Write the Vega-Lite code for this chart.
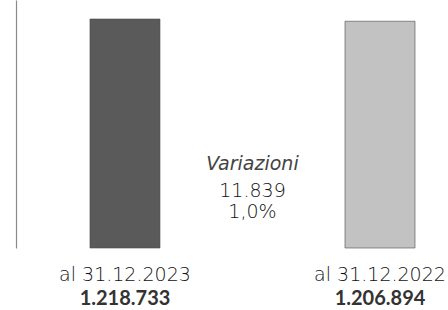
{
  "$schema": "https://vega.github.io/schema/vega-lite/v6.json",
  "width": 432,
  "height": 248,
  "autosize": {"type": "none"},
  "padding": {"left": 16, "top": 0, "right": 0, "bottom": 62},
  "background": "white",
  "config": {"view": {"stroke": null}, "font": "DejaVu Sans"},
  "data": {
    "values": [
      {"periodo": "al 31.12.2023", "valore": 1218733, "etichetta": "1.218.733"},
      {"periodo": "al 31.12.2022", "valore": 1206894, "etichetta": "1.206.894"}
    ]
  },
  "encoding": {
    "x": {
      "field": "periodo",
      "type": "nominal",
      "sort": null,
      "scale": {"domain": ["al 31.12.2023", "Variazioni", "al 31.12.2022"], "paddingInner": 0, "paddingOuter": 0.194, "align": 0.914},
      "axis": null
    }
  },
  "layer": [
    {
      "mark": {"type": "bar", "width": 70, "stroke": "#4a4a4a", "strokeWidth": 0.6},
      "encoding": {
        "y": {
          "field": "valore",
          "type": "quantitative",
          "scale": {"domain": [0, 1320000], "nice": false},
          "axis": {"labels": false, "ticks": false, "grid": false, "title": null, "domainColor": "#8a8a8a", "domainWidth": 1.2}
        },
        "color": {
          "field": "periodo",
          "type": "nominal",
          "scale": {"domain": ["al 31.12.2023", "al 31.12.2022"], "range": ["#5a5a5a", "#c2c2c2"]},
          "legend": null
        }
      }
    },
    {
      "mark": {"type": "text", "baseline": "alphabetic", "dy": 33, "fontSize": 19, "fontWeight": 300, "color": "#111111"},
      "encoding": {"y": {"datum": 0}, "text": {"field": "periodo"}}
    },
    {
      "mark": {"type": "text", "baseline": "alphabetic", "dy": 57, "fontSize": 20, "font": "Lato", "fontWeight": "bold", "color": "#333333"},
      "encoding": {"y": {"datum": 0}, "text": {"field": "etichetta"}}
    },
    {
      "data": {"values": [{"periodo": "Variazioni", "riga": "Variazioni", "livello": 415000}]},
      "mark": {"type": "text", "baseline": "alphabetic", "fontSize": 19, "fontStyle": "italic", "color": "#444444"},
      "encoding": {"y": {"field": "livello", "type": "quantitative"}, "text": {"field": "riga"}}
    },
    {
      "data": {"values": [{"periodo": "Variazioni", "riga": "11.839", "livello": 271000}, {"periodo": "Variazioni", "riga": "1,0%", "livello": 160000}]},
      "mark": {"type": "text", "baseline": "alphabetic", "fontSize": 19, "fontWeight": 300, "color": "#111111"},
      "encoding": {"y": {"field": "livello", "type": "quantitative"}, "text": {"field": "riga"}}
    }
  ]
}
